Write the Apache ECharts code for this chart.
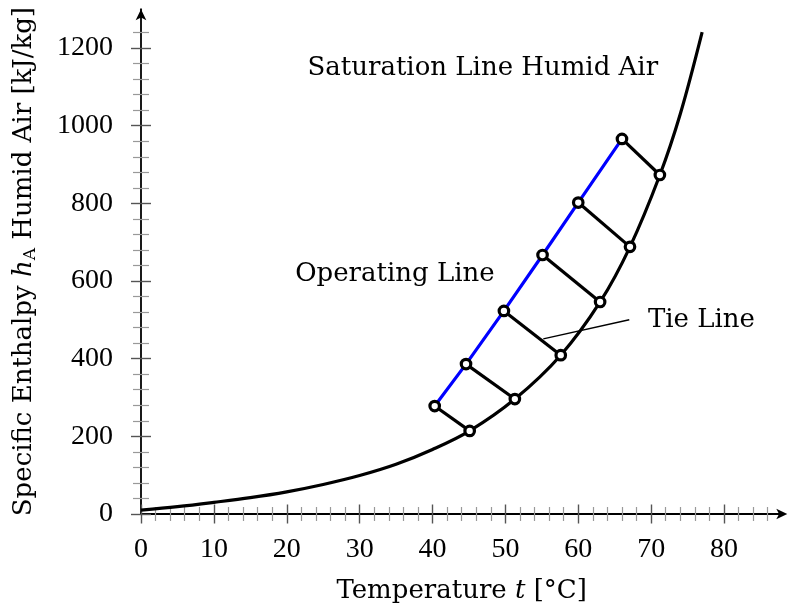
<!DOCTYPE html>
<html>
<head>
<meta charset="utf-8">
<script src="https://cdn.jsdelivr.net/npm/echarts@6/dist/echarts.min.js"></script>
<style>
  html, body { margin: 0; padding: 0; background: #fff; }
  #chart { width: 795px; height: 615px; }
</style>
</head>
<body>
<div id="chart"></div>
<script>
// saturation line of humid air, h in kJ/kg over t in °C
var satLine = [
  [0, 10], [5, 19], [10, 30], [15, 42], [20, 57], [25, 76], [30, 99],
  [35, 128], [40, 166], [45.1, 214], [51.3, 296], [57.6, 409],
  [63.0, 546], [67.1, 688], [71.2, 873], [74, 1030], [77, 1241]
];
// points on the operating line and matching points on the saturation line
var opPoints = [[40.3, 278], [44.6, 386], [49.8, 523], [55.1, 667], [60.0, 802], [66.0, 966]];
var satPoints = [[45.1, 214], [51.3, 296], [57.6, 409], [63.0, 546], [67.1, 688], [71.2, 873]];
// pointer for the "Tie Line" label
var tiePointer = [[55.2, 451], [67.0, 500]];

var xMajor = [0, 10, 20, 30, 40, 50, 60, 70, 80];
var xMinor = [2, 4, 6, 8, 12, 14, 16, 18, 22, 24, 26, 28, 32, 34, 36, 38, 42, 44, 46, 48,
  52, 54, 56, 58, 62, 64, 66, 68, 72, 74, 76, 78, 82, 84, 86];
var yMajor = [0, 200, 400, 600, 800, 1000, 1200];
var yMinor = [40, 80, 120, 160, 240, 280, 320, 360, 440, 480, 520, 560, 640, 680, 720, 760,
  840, 880, 920, 960, 1040, 1080, 1120, 1160, 1240];

var labels = [
  { text: 'Saturation Line Humid Air', pos: [46.9, 1148] },
  { text: 'Operating Line', pos: [34.85, 618] },
  { text: 'Tie Line', pos: [76.9, 500] }
];

var font = 'DejaVu Serif';
var numFont = 'Liberation Serif';
var fs = 26;

var chart = echarts.init(document.getElementById('chart'));

// extra axes that only draw ticks, so the ticks can cross the axis line
function tickAxis(pos, values, len, offset, color, width, max) {
  return {
    type: 'value', position: pos, min: 0, max: max, offset: offset,
    axisLine: { show: false, onZero: false },
    axisTick: { show: true, inside: true, customValues: values, length: len, lineStyle: { color: color, width: width } },
    axisLabel: { show: false },
    splitLine: { show: false }
  };
}

var xMax = 88, yMax = 1300;
var xAxes = [
  {
    type: 'value', position: 'bottom', min: 0, max: xMax,
    name: '{n|Temperature }{i|t}{n| [°C]}',
    nameLocation: 'middle', nameGap: 62,
    nameTextStyle: {
      rich: {
        n: { fontFamily: font, fontSize: fs, color: '#000', lineHeight: 30 },
        i: { fontFamily: font, fontSize: fs, fontStyle: 'italic', color: '#000', lineHeight: 30 }
      }
    },
    axisLine: { show: true, onZero: false, symbol: ['none', 'arrow'], symbolSize: [8, 11], symbolOffset: [0, 5],
      lineStyle: { color: '#000', width: 1.8 } },
    axisTick: { show: false },
    axisLabel: { show: true, customValues: xMajor, margin: 22, fontFamily: numFont, fontSize: 28, color: '#000',
      formatter: function (v) { return String(v); } },
    splitLine: { show: false }
  },
  tickAxis('bottom', xMinor, 14, 7, '#999', 1.2, xMax),
  tickAxis('bottom', xMajor, 19, 9.5, '#555', 1.4, xMax)
];

var yAxes = [
  {
    type: 'value', position: 'left', min: 0, max: yMax,
    name: '{n|Specific Enthalpy }{i|h}{s|A}{n| Humid Air [kJ/kg]}',
    nameLocation: 'middle', nameGap: 102,
    nameTextStyle: {
      rich: {
        n: { fontFamily: font, fontSize: fs, color: '#000', lineHeight: 30 },
        i: { fontFamily: font, fontSize: fs, fontStyle: 'italic', color: '#000', lineHeight: 30 },
        s: { fontFamily: font, fontSize: 17, color: '#000', lineHeight: 16, verticalAlign: 'bottom' }
      }
    },
    axisLine: { show: true, onZero: false, symbol: ['none', 'arrow'], symbolSize: [8, 11], symbolOffset: [0, 0],
      lineStyle: { color: '#000', width: 1.8 } },
    axisTick: { show: false },
    axisLabel: { show: true, customValues: yMajor, margin: 28, fontFamily: numFont, fontSize: 28, color: '#000',
      formatter: function (v) { return String(v); } },
    splitLine: { show: false }
  },
  tickAxis('left', yMinor, 16, 8, '#999', 1.2, yMax),
  tickAxis('left', yMajor, 20, 10, '#555', 1.4, yMax)
];

var series = [
  {
    type: 'line', data: satLine, smooth: 0.35, symbol: 'none',
    lineStyle: { color: '#000', width: 3.2 }, z: 2
  },
  {
    type: 'line', data: opPoints, symbol: 'none',
    lineStyle: { color: '#0000ff', width: 3.2 }, z: 2
  }
];
opPoints.forEach(function (p, i) {
  series.push({
    type: 'line', data: [p, satPoints[i]], symbol: 'none',
    lineStyle: { color: '#000', width: 3.2 }, z: 2
  });
});
series.push({
  type: 'line', data: tiePointer, symbol: 'none',
  lineStyle: { color: '#000', width: 1.5 }, z: 2
});
series.push({
  type: 'scatter', data: opPoints.concat(satPoints), symbol: 'circle', symbolSize: 9.5,
  itemStyle: { color: '#fff', borderColor: '#000', borderWidth: 3.2, opacity: 1 }, z: 5
});
series.push({
  type: 'scatter', symbolSize: 0, z: 6,
  itemStyle: { opacity: 1 },
  data: labels.map(function (l) {
    return { value: l.pos, label: { formatter: l.text } };
  }),
  label: { show: true, position: 'inside', fontFamily: font, fontSize: fs, color: '#000', opacity: 1 }
});

var option = {
  animation: false,
  backgroundColor: '#fff',
  grid: { left: 141, top: 9.2, width: 641.3, height: 504.8, outerBoundsMode: 'none' },
  xAxis: xAxes,
  yAxis: yAxes,
  series: series
};
chart.setOption(option);
</script>
</body>
</html>
